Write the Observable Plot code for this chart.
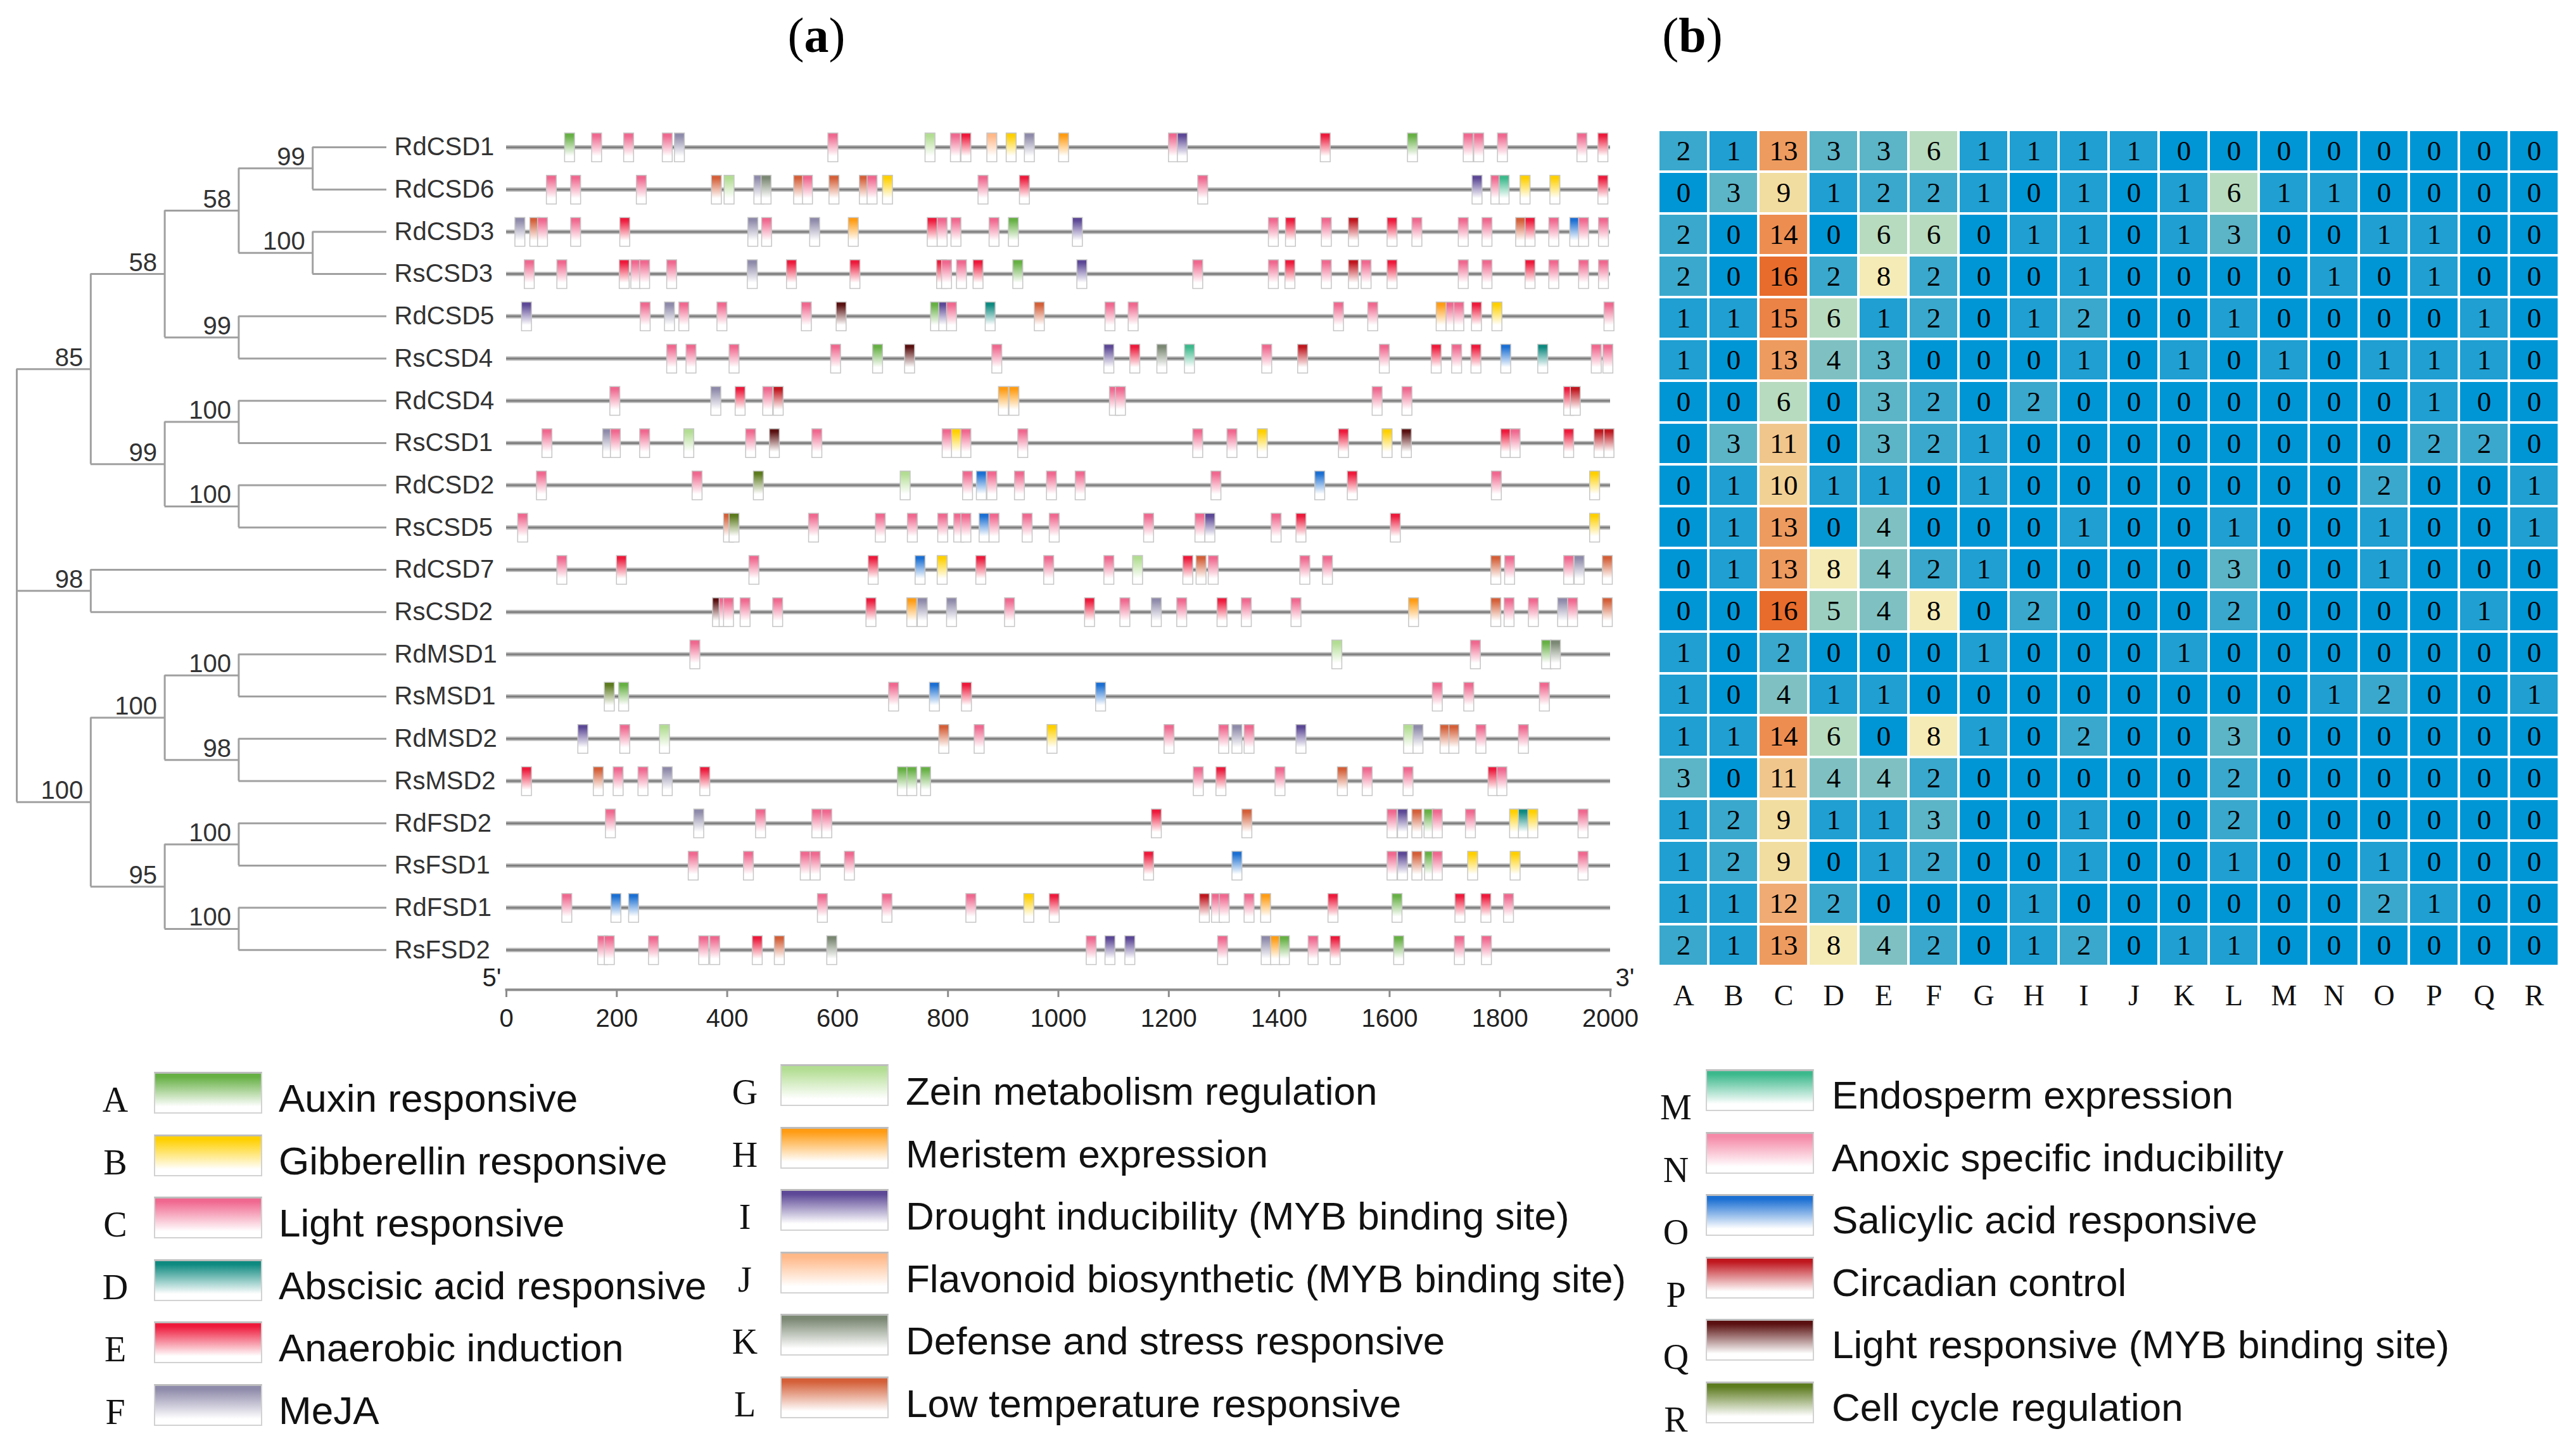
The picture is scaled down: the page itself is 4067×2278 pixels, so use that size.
<!DOCTYPE html>
<html><head><meta charset="utf-8">
<script src="https://cdn.jsdelivr.net/npm/d3@7"></script>
<script src="https://cdn.jsdelivr.net/npm/@observablehq/plot@0.6"></script>
<style>
html,body{margin:0;padding:0;background:#fff;}
#page{position:relative;width:4067px;height:2278px;overflow:hidden;background:#fff;}
#page svg.plotsvg{position:absolute;left:0;top:0;}
.title{position:absolute;font-family:"Liberation Serif","Times New Roman",serif;font-size:78px;transform:translate(-50%,-50%);white-space:nowrap;color:#000;}
.lg-letter{position:absolute;font-family:"Liberation Serif","Times New Roman",serif;font-size:56px;transform:translate(-50%,-50%);color:#111;}
.lg-sw{position:absolute;box-sizing:border-box;border:2px solid #d2d2d2;border-top:3px solid #bdbdbd;}
.lg-text{position:absolute;font-family:"Liberation Sans",Arial,sans-serif;font-size:62px;transform:translateY(-50%);white-space:nowrap;color:#111;}
</style></head>
<body><div id="page"></div>
<script>
// ---------- data ----------
const genes = ["RdCSD1","RdCSD6","RdCSD3","RsCSD3","RdCSD5","RsCSD4","RdCSD4","RsCSD1","RdCSD2","RsCSD5","RdCSD7","RsCSD2","RdMSD1","RsMSD1","RdMSD2","RsMSD2","RdFSD2","RsFSD1","RdFSD1","RsFSD2"];
const treeNewick = "(((((RdCSD1,RdCSD6)99,(RdCSD3,RsCSD3)100)58,(RdCSD5,RsCSD4)99)58,((RdCSD4,RsCSD1)100,(RdCSD2,RsCSD5)100)99)85,(RdCSD7,RsCSD2)98,(((RdMSD1,RsMSD1)100,(RdMSD2,RsMSD2)98)100,((RdFSD2,RsFSD1)100,(RdFSD1,RsFSD2)100)95)100)";

const creLetters = ["A","B","C","D","E","F","G","H","I","J","K","L","M","N","O","P","Q","R"];
const creLabels = ["Auxin responsive","Gibberellin responsive","Light responsive","Abscisic acid responsive","Anaerobic induction","MeJA",
  "Zein metabolism regulation","Meristem expression","Drought inducibility (MYB binding site)","Flavonoid biosynthetic (MYB binding site)","Defense and stress responsive","Low temperature responsive",
  "Endosperm expression","Anoxic specific inducibility","Salicylic acid responsive","Circadian control","Light responsive (MYB binding site)","Cell cycle regulation"];
const creColors = ["#66b044","#ffd000","#f0688f","#0e8a80","#ee1a3c","#8e8aaa","#b2dd92","#ff9c14","#5c4896","#ffb888","#7b8873","#d45f38","#3cb98c","#f58aa8","#1b6fd3","#c0171f","#5a1010","#5c7a1e"];

const heatCounts = [
  [2,1,13,3,3,6,1,1,1,1,0,0,0,0,0,0,0,0],
  [0,3,9,1,2,2,1,0,1,0,1,6,1,1,0,0,0,0],
  [2,0,14,0,6,6,0,1,1,0,1,3,0,0,1,1,0,0],
  [2,0,16,2,8,2,0,0,1,0,0,0,0,1,0,1,0,0],
  [1,1,15,6,1,2,0,1,2,0,0,1,0,0,0,0,1,0],
  [1,0,13,4,3,0,0,0,1,0,1,0,1,0,1,1,1,0],
  [0,0,6,0,3,2,0,2,0,0,0,0,0,0,0,1,0,0],
  [0,3,11,0,3,2,1,0,0,0,0,0,0,0,0,2,2,0],
  [0,1,10,1,1,0,1,0,0,0,0,0,0,0,2,0,0,1],
  [0,1,13,0,4,0,0,0,1,0,0,1,0,0,1,0,0,1],
  [0,1,13,8,4,2,1,0,0,0,0,3,0,0,1,0,0,0],
  [0,0,16,5,4,8,0,2,0,0,0,2,0,0,0,0,1,0],
  [1,0,2,0,0,0,1,0,0,0,1,0,0,0,0,0,0,0],
  [1,0,4,1,1,0,0,0,0,0,0,0,0,1,2,0,0,1],
  [1,1,14,6,0,8,1,0,2,0,0,3,0,0,0,0,0,0],
  [3,0,11,4,4,2,0,0,0,0,0,2,0,0,0,0,0,0],
  [1,2,9,1,1,3,0,0,1,0,0,2,0,0,0,0,0,0],
  [1,2,9,0,1,2,0,0,1,0,0,1,0,0,1,0,0,0],
  [1,1,12,2,0,0,0,1,0,0,0,0,0,0,2,1,0,0],
  [2,1,13,8,4,2,0,1,2,0,1,1,0,0,0,0,0,0]
];
const heatStops = [0,1,2,3,4,5,6,8,9,10,11,12,13,14,15,16];
const heatColors = ["#0096d6","#1f9fd2","#3aa8cd","#5cb4c7","#7fc1c3","#9dcfc1","#b7dbbf","#f4ebb6","#f2dda0","#f2d195","#f1c68c","#efab73","#ee9b5f","#ed8d50","#eb8246","#e86c2c"];

const axisTicks = [0,200,400,600,800,1000,1200,1400,1600,1800,2000];

// motif sites per promoter: type letter + position (bp)
const sitesRdCSD1 = "A115 C164 C222 C292 F314 C592 G768 C814 E833 J880 B915 F948 H1010 C1209 I1225 E1484 A1642 C1743 C1762 C1805 C1949 E1987";
const sitesRdCSD6 = "C82 C126 C245 L381 G404 F458 K471 L530 C546 L594 L649 C663 B691 C864 E939 C1262 I1759 C1793 M1808 B1846 B1900 E1987";
const sitesRdCSD3 = "F25 L52 C66 C126 E215 F447 C472 F559 H629 E772 C790 C815 C884 A919 I1035 C1390 E1421 C1486 P1535 E1605 C1650 C1734 C1777 L1838 E1855 C1898 O1936 C1952 C1988";
const sitesRsCSD3 = "C42 C101 E214 C235 C251 C300 F446 E517 E632 E789 C798 C825 E855 A927 I1043 C1253 C1390 E1420 C1486 P1535 C1558 E1605 C1734 C1777 E1855 C1898 C1952 C1988";
const sitesRdCSD5 = "I37 C252 F296 C322 C391 C544 Q607 A778 I793 C807 D877 L966 C1094 C1136 C1508 C1570 H1694 C1712 C1726 E1758 B1795 C1998";
const sitesRsCSD4 = "C300 C335 C413 C597 A673 Q731 C889 I1092 E1139 K1188 M1238 C1378 P1443 C1591 E1685 C1722 E1757 O1811 D1878 C1975 C1996";
const sitesRdCSD4 = "C197 F380 E424 C474 P493 H901 H920 C1102 C1113 C1578 C1632 E1925 P1937";
const sitesRsCSD1 = "C74 F184 C198 C251 G331 C443 Q486 C563 C799 B816 C833 C936 C1253 C1315 B1370 E1517 B1596 Q1631 E1811 C1828 E1925 P1980 P1998";
const sitesRdCSD2 = "C64 C346 R457 G723 C836 O861 C880 C930 C988 C1040 C1286 O1474 E1533 C1794 B1972";
const sitesRsCSD5 = "C30 L403 R413 C557 C678 C736 C791 C820 C833 O866 C884 C944 C993 C1164 C1257 I1275 C1395 E1440 E1611 B1972";
const sitesRdCSD7 = "C101 E209 C449 E665 O750 B790 E860 C983 C1092 G1144 E1235 L1259 C1281 C1447 C1488 L1793 C1818 C1925 F1944 L1995";
const sitesRsCSD2 = "Q383 C395 C403 C433 C492 E661 H735 F754 F807 C912 E1057 C1121 F1178 C1224 E1297 C1341 C1431 H1644 L1793 C1817 C1861 F1914 C1932 L1995";
const sitesRdMSD1 = "C342 G1505 C1756 A1885 K1901";
const sitesRsMSD1 = "R187 A213 C702 O776 E834 O1077 C1687 C1744 C1881";
const sitesRdMSD2 = "I139 C215 G287 L793 C857 B989 C1201 C1300 F1324 C1346 I1440 G1635 F1652 L1701 L1717 C1766 C1843";
const sitesRsMSD2 = "E37 L167 C203 C248 F292 E360 A718 A735 A760 C1254 E1295 C1402 L1515 C1560 C1634 E1788 C1804";
const sitesRdFSD2 = "C189 F349 C461 C563 C581 E1178 L1342 C1605 I1624 L1650 A1672 C1687 C1747 B1827 D1843 B1860 C1951";
const sitesRsFSD1 = "C339 C439 C542 C560 C622 E1164 O1324 C1605 I1624 L1650 A1673 C1687 B1751 B1828 C1951";
const sitesRdFSD1 = "C110 O199 O231 C573 C690 C842 B947 E993 P1265 C1287 C1301 C1346 H1376 E1498 A1614 E1728 E1775 C1816";
const sitesRsFSD2 = "C175 C187 C267 C358 C378 E455 L495 K590 C1060 I1094 I1130 C1298 F1377 H1394 A1410 C1462 E1502 A1617 C1727 C1776";

const siteStrings = [sitesRdCSD1,sitesRdCSD6,sitesRdCSD3,sitesRsCSD3,sitesRdCSD5,sitesRsCSD4,sitesRdCSD4,sitesRsCSD1,sitesRdCSD2,sitesRsCSD5,
  sitesRdCSD7,sitesRsCSD2,sitesRdMSD1,sitesRsMSD1,sitesRdMSD2,sitesRsMSD2,sitesRdFSD2,sitesRsFSD1,sitesRdFSD1,sitesRsFSD2];

// ---------- build ----------
const page = d3.select("#page");

// gradient defs
const defs = page.append("svg").attr("width",0).attr("height",0).style("position","absolute").append("defs");
creLetters.forEach((L,i)=>{
  const g = defs.append("linearGradient").attr("id","grad-"+L).attr("x1",0).attr("y1",0).attr("x2",0).attr("y2",1);
  g.append("stop").attr("offset",0).attr("stop-color",creColors[i]);
  g.append("stop").attr("offset",0.1).attr("stop-color",creColors[i]);
  g.append("stop").attr("offset",0.8).attr("stop-color","#ffffff");
  g.append("stop").attr("offset",1).attr("stop-color","#ffffff");
});

// tree
function parseNewick(s){
  let i=0;
  function node(){
    const n={children:[],name:"",support:""};
    if(s[i]==="("){ i++; n.children.push(node()); while(s[i]===","){i++; n.children.push(node());} i++; }
    let tok=""; while(i<s.length && !",();".includes(s[i])){tok+=s[i]; i++;}
    if(n.children.length) n.support=tok; else n.name=tok;
    return n;
  }
  return node();
}
const root = parseNewick(treeNewick);
const leafDepth = 5;
const vLines=[], hLines=[], leaves=[], inner=[];
(function layout(n,depth){
  if(!n.children.length){ n.x=leafDepth; n.y=genes.indexOf(n.name); leaves.push(n); return; }
  n.children.forEach(c=>layout(c,depth+1));
  n.x=depth;
  const f=n.children[0], l=n.children[n.children.length-1];
  n.y=(f.y+l.y)/2;
  vLines.push({x:n.x,y1:f.y,y2:l.y});
  n.children.forEach(c=>hLines.push({y:c.y,x1:n.x,x2:c.x}));
  if(n.support) inner.push(n);
})(root,0);

const yRange=[232,1499.3];
const treePlot = Plot.plot({
  width:820,height:1600,margin:0,
  x:{domain:[0,leafDepth],range:[26,610],axis:null},
  y:{domain:[0,19],range:yRange,axis:null},
  style:{background:"transparent",overflow:"visible",fontFamily:"'Liberation Sans',Arial,sans-serif",maxWidth:"none"},
  marks:[
    Plot.ruleX(vLines,{x:"x",y1:"y1",y2:"y2",stroke:"#a0a0a0",strokeWidth:3}),
    Plot.ruleY(hLines,{y:"y",x1:"x1",x2:"x2",stroke:"#a0a0a0",strokeWidth:3}),
    Plot.text(leaves,{x:"x",y:"y",text:"name",textAnchor:"start",dx:12,fontSize:40,fill:"#333"}),
    Plot.text(inner,{x:"x",y:"y",text:"support",textAnchor:"end",lineAnchor:"bottom",dx:-12,dy:-5,fontSize:40,fill:"#333"})
  ]
});

// tracks
const sites = siteStrings.flatMap((s,row)=>s.split(" ").map(t=>({row,type:t[0],pos:+t.slice(1)})));
const rows = genes.map((g,i)=>i);
const trackPlot = Plot.plot({
  width:2600,height:1700,marginLeft:799,marginRight:58,marginTop:0,marginBottom:138,
  x:{domain:[0,2000]},
  y:{domain:[0,19],range:yRange,axis:null},
  color:{type:"identity"},
  style:{background:"transparent",overflow:"visible",fontFamily:"'Liberation Sans',Arial,sans-serif",maxWidth:"none"},
  marks:[
    Plot.ruleY(rows,{y:d=>d,x1:0,x2:2000,stroke:"#bdbdbd",strokeWidth:7}),
    Plot.ruleY(rows,{y:d=>d,x1:0,x2:2000,stroke:"#808080",strokeWidth:3}),
    Plot.rect(sites,{x1:d=>d.pos-9,x2:d=>d.pos+9,y1:d=>d.row-0.33,y2:d=>d.row+0.35,fill:d=>`url(#grad-${d.type})`,stroke:"#c6c6c6",strokeWidth:1.5}),
    Plot.frame({anchor:"bottom",stroke:"#8c8c8c",strokeWidth:4}),
    Plot.axisX({anchor:"bottom",ticks:axisTicks,tickFormat:d=>String(d),tickSize:12,tickPadding:18,fontSize:40,stroke:"#8c8c8c",strokeWidth:3,fill:"#222",label:null}),
    Plot.text(["5'"],{frameAnchor:"bottom-left",dx:-8,dy:-6,textAnchor:"end",fontSize:40,fill:"#222"}),
    Plot.text(["3'"],{frameAnchor:"bottom-right",dx:8,dy:-6,textAnchor:"start",fontSize:40,fill:"#222"})
  ]
});

// heatmap
const heatData = genes.flatMap((g,i)=>heatCounts[i].map((v,j)=>({gene:g,cre:creLetters[j],v})));
const heatPlot = Plot.plot({
  width:4067,height:1700,marginLeft:2611,marginRight:21,marginTop:198.75,marginBottom:168,
  x:{domain:creLetters,padding:0,axis:null},
  y:{domain:genes,padding:0,axis:null},
  color:{type:"linear",domain:heatStops,range:heatColors},
  style:{background:"transparent",overflow:"visible",fontFamily:"'Liberation Serif','Times New Roman',serif",maxWidth:"none"},
  marks:[
    Plot.cell(heatData,{x:"cre",y:"gene",fill:"v",inset:2}),
    Plot.text(heatData,{x:"cre",y:"gene",text:"v",fontSize:45,fill:"#000"}),
    Plot.axisX({anchor:"bottom",tickSize:0,tickPadding:22,fontSize:46,fill:"#111",label:null})
  ]
});

[treePlot,trackPlot,heatPlot].forEach(p=>{ p.classList.add("plotsvg"); page.node().appendChild(p); });

// titles
page.append("div").attr("class","title").style("left","1289px").style("top","56px").html("(<b>a</b>)");
page.append("div").attr("class","title").style("left","2672px").style("top","56px").html("(<b>b</b>)");

// legend
const legendCols = [
  {letterX:182, swX:243, textX:440, swTop:1692, textC:1733, letterC:1736},
  {letterX:1176, swX:1232, textX:1430, swTop:1680, textC:1722, letterC:1724},
  {letterX:2646, swX:2693, textX:2892, swTop:1688, textC:1728, letterC:1748}
];
const legendStep = 98.5;
creLetters.forEach((L,i)=>{
  const c = legendCols[Math.floor(i/6)], r = i%6;
  page.append("div").attr("class","lg-letter").style("left",c.letterX+"px").style("top",(c.letterC+r*legendStep)+"px").text(L);
  page.append("div").attr("class","lg-sw").style("left",c.swX+"px").style("top",(c.swTop+r*legendStep)+"px")
    .style("width","171px").style("height","66px")
    .style("background",`linear-gradient(to bottom, ${creColors[i]} 0%, ${creColors[i]} 8%, #ffffff 85%)`);
  page.append("div").attr("class","lg-text").style("left",c.textX+"px").style("top",(c.textC+r*legendStep)+"px").text(creLabels[i]);
});
</script>
</body></html>
